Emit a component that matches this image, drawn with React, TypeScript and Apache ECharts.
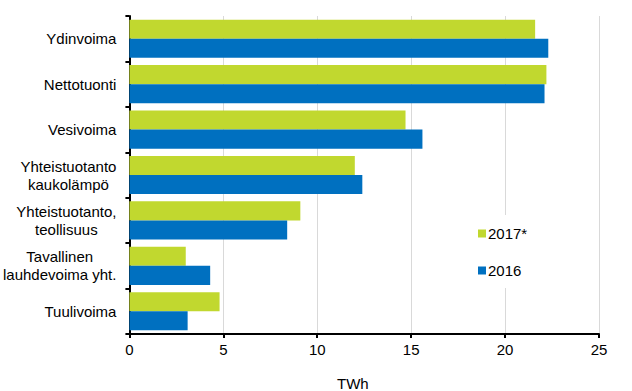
import React, { useEffect, useRef } from "react";
import * as echarts from "echarts";

const categories = [
  "Ydinvoima",
  "Nettotuonti",
  "Vesivoima",
  "Yhteistuotanto\nkaukolämpö",
  "Yhteistuotanto,\nteollisuus",
  "Tavallinen\nlauhdevoima yht.",
  "Tuulivoima",
];
const values2017 = [21.6, 22.2, 14.7, 12.0, 9.1, 3.0, 4.8];
const values2016 = [22.3, 22.1, 15.6, 12.4, 8.4, 4.3, 3.1];
const seriesNames = ["2017*", "2016"];
const xTicks = [0, 5, 10, 15, 20, 25];
const axisTitle = "TWh";

const FONT = "'Liberation Sans', Arial, sans-serif";

export default function App() {
  const ref = useRef<HTMLDivElement>(null);
  useEffect(() => {
    if (!ref.current) return;
    const chart = echarts.init(ref.current, undefined, { renderer: "svg" });
    chart.setOption({
      animation: false,
      backgroundColor: "#ffffff",
      textStyle: { fontFamily: FONT },
      grid: { left: 129, right: 33, top: 16, bottom: 57, containLabel: false },
      legend: {
        orient: "vertical",
        left: 470,
        top: 215,
        padding: [11, 8, 10, 8],
        backgroundColor: "#ffffff",
        itemWidth: 8,
        itemHeight: 8,
        itemGap: 22,
        icon: "rect",
        data: seriesNames,
        textStyle: { fontSize: 15, color: "#000", fontFamily: FONT, padding: [0, 0, 0, -3] },
      },
      xAxis: {
        type: "value",
        min: xTicks[0],
        max: xTicks[xTicks.length - 1],
        interval: 5,
        axisLine: { show: true, lineStyle: { color: "#000", width: 2 } },
        axisTick: { show: true, length: 4, lineStyle: { color: "#000", width: 2 } },
        axisLabel: { fontSize: 15, color: "#000", fontFamily: FONT, margin: 8 },
        splitLine: { show: true, lineStyle: { color: "#d9d9d9", width: 1 } },
      },
      yAxis: {
        type: "category",
        inverse: true,
        data: categories,
        axisLine: { show: true, lineStyle: { color: "#000", width: 2 } },
        axisTick: { show: true, length: 4, lineStyle: { color: "#000", width: 2 } },
        axisLabel: {
          margin: 13,
          color: "#000",
          fontSize: 15,
          fontFamily: FONT,
          lineHeight: 18,
          formatter: (v: string) =>
            v
              .split("\n")
              .map((l) => "{c|" + l + "}")
              .join("\n"),
          rich: {
            c: { align: "center", fontSize: 15, fontFamily: FONT, color: "#000", lineHeight: 18 },
          },
        },
        splitLine: { show: false },
      },
      series: [
        {
          name: seriesNames[0],
          type: "bar",
          data: values2017,
          itemStyle: { color: "#c1d82f" },
          barGap: "0%",
          barCategoryGap: "16%",
        },
        {
          name: seriesNames[1],
          type: "bar",
          data: values2016,
          itemStyle: { color: "#0070c0" },
          barGap: "0%",
          barCategoryGap: "16%",
        },
      ],
      graphic: [
        {
          type: "text",
          left: 337,
          top: 376,
          style: { text: axisTitle, fontSize: 15, fontFamily: FONT, fill: "#000" },
        },
      ],
    });
    return () => chart.dispose();
  }, []);
  return <div ref={ref} style={{ width: 632, height: 391, position: "absolute", left: 0, top: 0 }} />;
}
